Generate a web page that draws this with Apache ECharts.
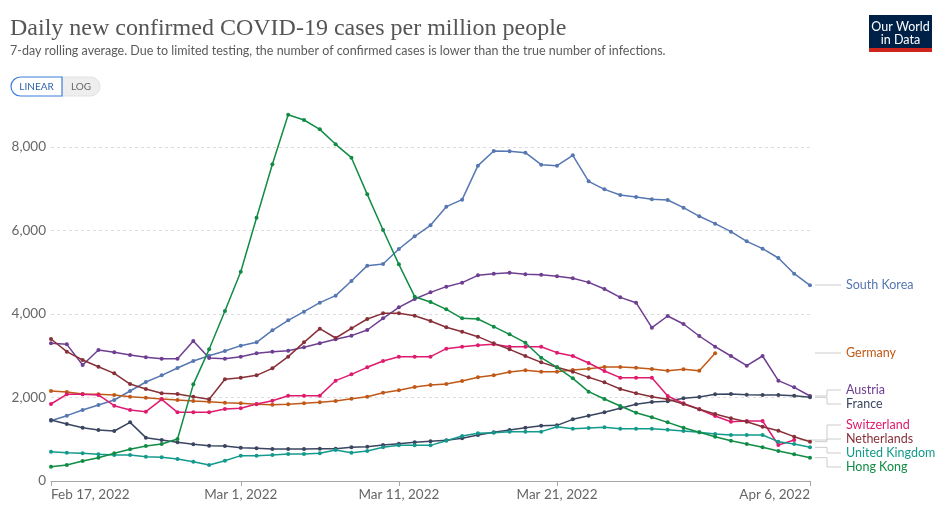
<!DOCTYPE html>
<html>
<head>
<meta charset="utf-8">
<script src="https://cdn.jsdelivr.net/npm/echarts@6/dist/echarts.min.js"></script>
<style>
html,body{margin:0;padding:0;background:#fff;}
#chart{width:945px;height:514px;}
</style>
</head>
<body>
<div id="chart"></div>
<script>
const dates = [
 "2022-02-17","2022-02-18","2022-02-19","2022-02-20","2022-02-21","2022-02-22","2022-02-23","2022-02-24","2022-02-25","2022-02-26","2022-02-27","2022-02-28",
 "2022-03-01","2022-03-02","2022-03-03","2022-03-04","2022-03-05","2022-03-06","2022-03-07","2022-03-08","2022-03-09","2022-03-10",
 "2022-03-11","2022-03-12","2022-03-13","2022-03-14","2022-03-15","2022-03-16","2022-03-17","2022-03-18","2022-03-19","2022-03-20",
 "2022-03-21","2022-03-22","2022-03-23","2022-03-24","2022-03-25","2022-03-26","2022-03-27","2022-03-28","2022-03-29","2022-03-30","2022-03-31",
 "2022-04-01","2022-04-02","2022-04-03","2022-04-04","2022-04-05","2022-04-06"
];
const tickLabels = {
 "2022-02-17":"Feb 17, 2022","2022-03-01":"Mar 1, 2022","2022-03-11":"Mar 11, 2022",
 "2022-03-21":"Mar 21, 2022","2022-04-06":"Apr 6, 2022"
};
const yTicks = [0, 2000, 4000, 6000, 8000];

const southKorea = [1445,1565,1700,1820,1940,2156,2371,2531,2707,2874,3002,3114,3242,3322,3609,3849,4056,4271,4439,4790,5158,5198,5557,5860,6124,6571,6739,7553,7904,7896,7864,7577,7553,7800,7178,6986,6850,6802,6747,6731,6547,6340,6164,5972,5741,5565,5341,4966,4687];
const germany = [2156,2132,2084,2076,2060,2020,1996,1964,1940,1916,1900,1876,1860,1836,1828,1836,1860,1884,1916,1972,2020,2116,2172,2252,2299,2323,2395,2483,2531,2611,2651,2619,2619,2659,2691,2731,2731,2715,2683,2643,2675,2643,3058,null,null,null,null,null,null];
const austria = [3297,3273,2778,3138,3082,3018,2962,2930,2930,3353,2946,2930,2978,3058,3098,3122,3202,3297,3393,3481,3617,3896,4160,4359,4519,4655,4751,4926,4966,4990,4950,4942,4902,4854,4758,4599,4399,4271,3673,3952,3760,3473,3217,2994,2762,2994,2403,2243,2036];
const france = [1461,1365,1277,1222,1198,1405,1038,982,926,878,846,838,798,782,766,766,766,774,774,806,822,862,894,926,950,974,1022,1102,1166,1222,1277,1325,1333,1477,1565,1645,1741,1836,1892,1908,1980,2012,2076,2084,2068,2060,2060,2044,2004];
const switzerland = [1844,2076,2076,2060,1804,1700,1661,1956,1645,1645,1645,1725,1741,1844,1924,2044,2044,2044,2403,2555,2723,2874,2978,2978,2978,3170,3217,3249,3273,3217,3217,3217,3074,2994,2826,2635,2475,2475,2475,2036,1860,1717,1557,1421,1437,1437,862,982,null];
const netherlands = [3401,3098,2898,2738,2578,2323,2204,2100,2084,2020,1956,2435,2475,2531,2699,2978,3321,3649,3425,3657,3880,4016,4016,3960,3832,3681,3577,3457,3297,3154,2994,2842,2723,2619,2483,2363,2204,2100,2020,1956,1844,1717,1605,1501,1421,1301,1205,1062,942];
const unitedKingdom = [703,679,663,639,623,623,583,567,527,463,383,487,607,607,623,647,647,663,743,679,719,806,854,854,854,966,1078,1142,1158,1182,1182,1182,1301,1253,1269,1285,1253,1253,1253,1229,1198,1166,1126,1102,1102,1102,942,886,806];
const hongKong = [343,383,479,559,663,759,838,886,1006,2315,3154,4072,5014,6307,7585,8774,8647,8423,8064,7744,6866,6012,5190,4415,4287,4112,3896,3880,3696,3513,3313,2954,2723,2459,2140,1964,1796,1636,1525,1405,1277,1166,1062,966,886,806,719,639,559];

const seriesDefs = [
 {name:"South Korea", data:southKorea, color:"#5677b1", labelY:285},
 {name:"Germany", data:germany, color:"#c05917", labelY:353},
 {name:"Austria", data:austria, color:"#6d3e91", labelY:390},
 {name:"France", data:france, color:"#3a4560", labelY:404},
 {name:"Switzerland", data:switzerland, color:"#de1b6e", labelY:425},
 {name:"Netherlands", data:netherlands, color:"#883039", labelY:439},
 {name:"United Kingdom", data:unitedKingdom, color:"#139a8c", labelY:453},
 {name:"Hong Kong", data:hongKong, color:"#108c45", labelY:467}
];

const chart = echarts.init(document.getElementById('chart'), null, {renderer:'canvas'});
const font = "Lato, 'Noto Sans', sans-serif";

const option = {
 animation:false,
 backgroundColor:'#fff',
 grid:{left:51, right:135, top:105.25, bottom:33, containLabel:false},
 xAxis:{
  type:'category', data:dates, boundaryGap:false,
  axisLine:{lineStyle:{color:'#a6a6a6', width:1}},
  axisTick:{show:true, length:5, lineStyle:{color:'#a6a6a6'},
   interval:function(i, v){return tickLabels[v]!==undefined;}},
  axisLabel:{
   interval:function(i, v){return tickLabels[v]!==undefined;},
   formatter:function(v){return tickLabels[v]||'';},
   color:'#666', fontFamily:font, fontSize:13.5, margin:7,
   alignMinLabel:'left', alignMaxLabel:'right'
  },
  splitLine:{show:false}
 },
 yAxis:{
  type:'value', min:0, max:9000, interval:2000,
  axisLine:{show:false}, axisTick:{show:false},
  axisLabel:{color:'#666', fontFamily:font, fontSize:13.5, margin:5, showMaxLabel:false,
   formatter:function(v){return yTicks.indexOf(v)>=0 ? v.toLocaleString('en-US') : '';}},
  splitLine:{show:true, showMinLine:false, showMaxLine:false, lineStyle:{color:'#ddd', type:[3,3], width:1}}
 },
 series: seriesDefs.map(function(s){
  return {
   name:s.name, type:'line', data:s.data, connectNulls:false,
   symbol:'circle', symbolSize:4, showSymbol:true,
   lineStyle:{color:s.color, width:1.5},
   itemStyle:{color:s.color},
   emphasis:{disabled:true}
  };
 })
};
chart.setOption(option);

// Header, buttons, logo, and end labels
const graphics = [
 {type:'text', left:10, top:17, style:{text:'Daily new confirmed COVID-19 cases per million people', fill:'#555', font:"24px 'Liberation Serif', 'DejaVu Serif', serif"}},
 {type:'text', left:10, top:44, style:{text:'7-day rolling average. Due to limited testing, the number of confirmed cases is lower than the true number of infections.', fill:'#5b5b5b', font:"12.5px Lato, 'Noto Sans', sans-serif"}},
 {type:'rect', shape:{x:62, y:77, width:38, height:19, r:[0,10,10,0]}, style:{fill:'#eeeeee', stroke:'#e2e2e2', lineWidth:1}},
 {type:'rect', shape:{x:11, y:77, width:51, height:19, r:[10,0,0,10]}, style:{fill:'#fff', stroke:'#3b7fd9', lineWidth:1.2}},
 {type:'text', x:36.5, y:86.5, style:{text:'LINEAR', fill:'#2f64b0', font:"10px Lato, sans-serif", align:'center', verticalAlign:'middle'}},
 {type:'text', x:81, y:86.5, style:{text:'LOG', fill:'#666', font:"10px Lato, sans-serif", align:'center', verticalAlign:'middle'}},
 {type:'rect', shape:{x:869, y:15, width:63, height:37}, style:{fill:'#002147'}},
 {type:'rect', shape:{x:869, y:48, width:63, height:4}, style:{fill:'#ce261e'}},
 {type:'text', x:900.5, y:27, style:{text:'Our World', fill:'#fff', font:"12.5px Lato, 'Liberation Sans Narrow', sans-serif", align:'center', verticalAlign:'middle'}},
 {type:'text', x:900.5, y:40, style:{text:'in Data', fill:'#fff', font:"12.5px Lato, sans-serif", align:'center', verticalAlign:'middle'}}
];

seriesDefs.forEach(function(s){
 let last = s.data.length - 1;
 while (last >= 0 && s.data[last] === null) last--;
 const endPt = chart.convertToPixel({gridIndex:0}, [last, s.data[last]]);
 const axisEnd = chart.convertToPixel({gridIndex:0}, [dates.length-1, 0])[0];
 const x0 = endPt[0] + 5;
 const xMid = axisEnd + 17;
 const pts = (s.name === 'Germany' || s.name === 'South Korea')
  ? [[axisEnd+5, s.labelY], [axisEnd+31, s.labelY]]
  : [[x0, endPt[1]], [xMid, endPt[1]], [xMid, s.labelY], [axisEnd+31, s.labelY]];
 graphics.push({type:'polyline', shape:{points:pts}, style:{stroke:'#ccc', lineWidth:1, fill:null}, silent:true});
 graphics.push({type:'text', x:axisEnd+36, y:s.labelY, style:{text:s.name, fill:s.color, font:"12.5px Lato, 'Noto Sans', sans-serif", verticalAlign:'middle'}});
});
chart.setOption({graphic:graphics});
</script>
</body>
</html>
